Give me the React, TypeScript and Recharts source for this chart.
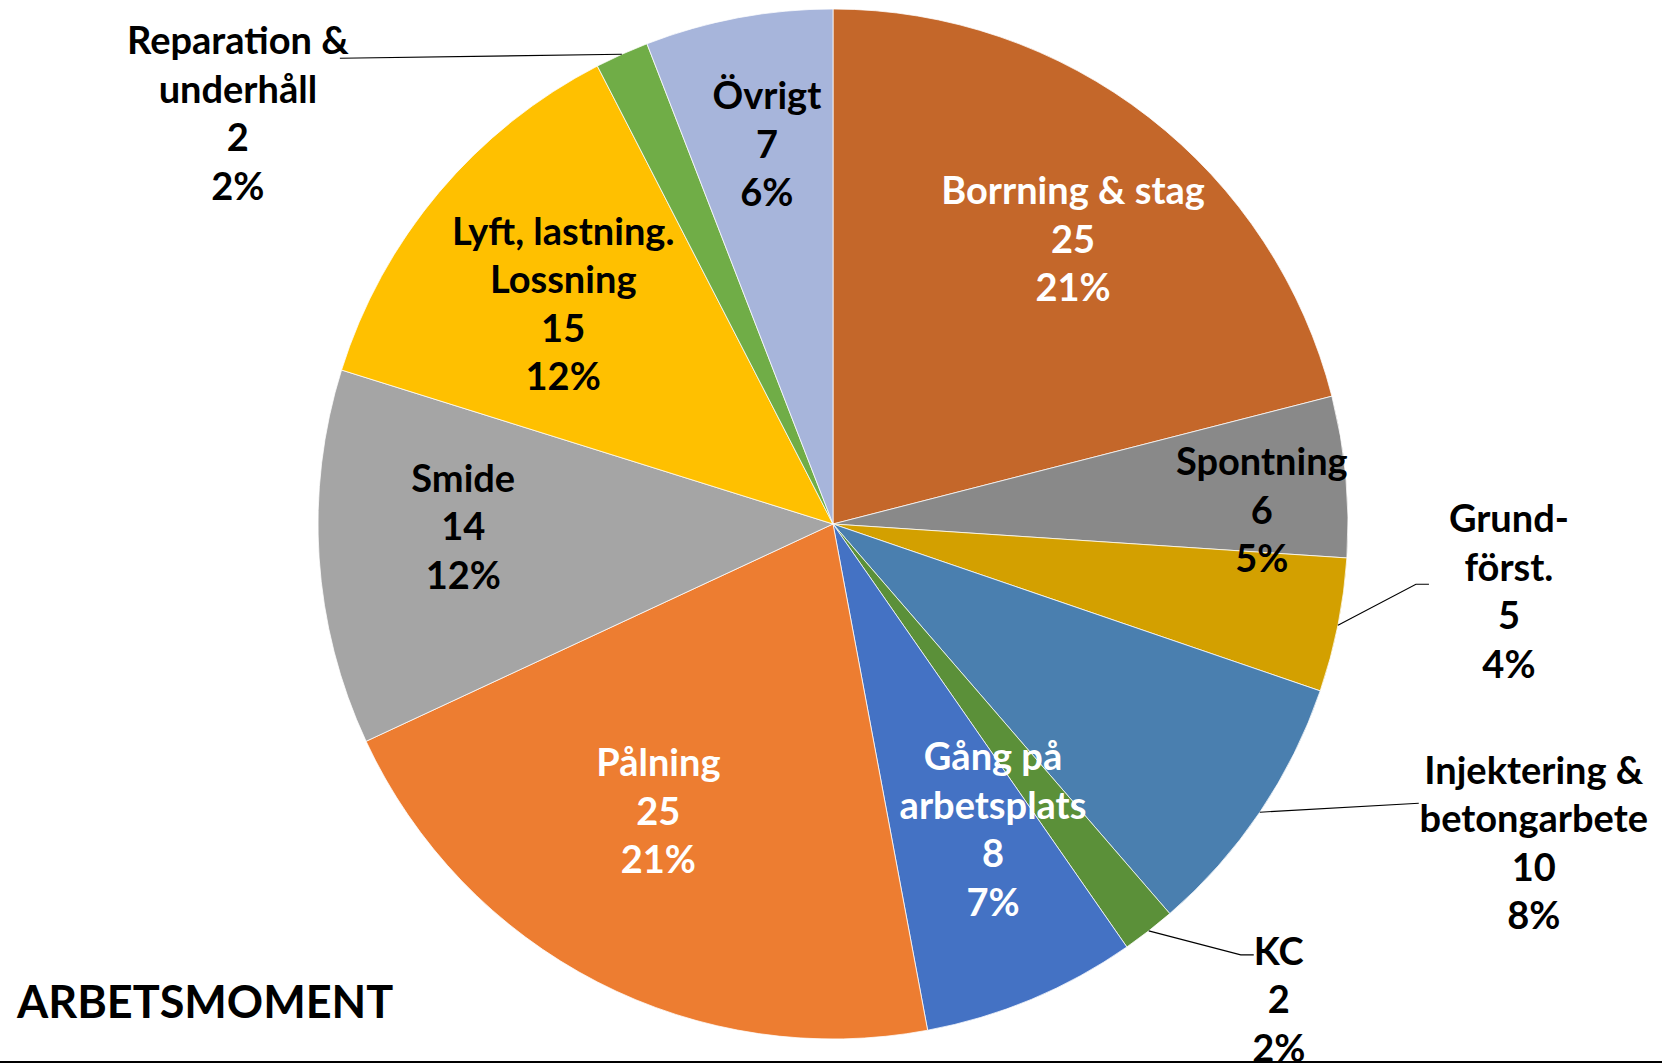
import React from 'react';
import { PieChart, Pie, Cell } from 'recharts';

// ---- data (clockwise from 12 o'clock) ----
const categories = [
  'Borrning & stag',
  'Spontning',
  'Grund-\nförst.',
  'Injektering &\nbetongarbete',
  'KC',
  'Gång på\narbetsplats',
  'Pålning',
  'Smide',
  'Lyft, lastning.\nLossning',
  'Reparation &\nunderhåll',
  'Övrigt',
];
const counts = [25, 6, 5, 10, 2, 8, 25, 14, 15, 2, 7];
const percentLabels = ['21%', '5%', '4%', '8%', '2%', '7%', '21%', '12%', '12%', '2%', '6%'];
const chartTitle = 'ARBETSMOMENT';

// ---- styling ----
const sliceColors = [
  '#C4672A', '#898989', '#D3A000', '#4A7FAF', '#5B9039', '#4472C4',
  '#ED7D31', '#A5A5A5', '#FFC000', '#70AD47', '#A7B5DB',
];
const labelColors = [
  '#FFFFFF', '#000000', '#000000', '#000000', '#000000', '#FFFFFF',
  '#FFFFFF', '#000000', '#000000', '#000000', '#000000',
];

type Layout =
  | { kind: 'inside'; r: number; rot: number }
  | { kind: 'outside'; elbow: [number, number]; tail: number; text: [number, number] };

// label placement (radius ratio / clockwise angle shift for inner labels;
// leader offsets from the slice edge for outer labels)
const labelLayout: Layout[] = [
  { kind: 'inside', r: 0.722, rot: 2.4 },
  { kind: 'inside', r: 0.833, rot: 3.6 },
  { kind: 'outside', elbow: [78, -41], tail: 13, text: [171, -33] },
  { kind: 'outside', elbow: [159, -9], tail: 0, text: [274, 32] },
  { kind: 'outside', elbow: [92, 24], tail: 13, text: [130, 70] },
  { kind: 'inside', r: 0.671, rot: -4.9 },
  { kind: 'inside', r: 0.654, rot: 4.0 },
  { kind: 'inside', r: 0.718, rot: 3.2 },
  { kind: 'inside', r: 0.675, rot: -1.0 },
  { kind: 'outside', elbow: [-282, 4], tail: 0, text: [-384, 60] },
  { kind: 'inside', r: 0.747, rot: 0.7 },
];

const W = 1662;
const H = 1063;
const CX = 833;
const CY = 524;
const R = 515;
const FONT = 'Lato, "Open Sans", sans-serif';
const FONT_SIZE = 38;
const LINE = 48.5;
const CAP = 25;
const RAD = Math.PI / 180;

const pieData = categories.map((name, i) => ({ name, value: counts[i] }));

function renderLabel(props: any) {
  const { cx, cy, midAngle, outerRadius, index } = props;
  const lay = labelLayout[index];
  const lines = [...categories[index].split('\n'), String(counts[index]), percentLabels[index]];
  let tx = 0;
  let ty = 0;
  let leader: React.ReactNode = null;
  if (lay.kind === 'inside') {
    const a = (midAngle - lay.rot) * RAD;
    tx = cx + outerRadius * lay.r * Math.cos(a);
    ty = cy - outerRadius * lay.r * Math.sin(a);
  } else {
    const a = midAngle * RAD;
    const px = cx + outerRadius * Math.cos(a);
    const py = cy - outerRadius * Math.sin(a);
    const ex = px + lay.elbow[0];
    const ey = py + lay.elbow[1];
    const pts = `${px},${py} ${ex},${ey} ${ex + lay.tail},${ey}`;
    leader = <polyline points={pts} fill="none" stroke="#000" strokeWidth={1.1} />;
    tx = px + lay.text[0];
    ty = py + lay.text[1];
  }
  const n = lines.length;
  return (
    <g key={`lbl-${index}`}>
      {leader}
      <text
        textAnchor="middle"
        fill={labelColors[index]}
        fontFamily={FONT}
        fontWeight={700}
        fontSize={FONT_SIZE}
      >
        {lines.map((l, i) => (
          <tspan key={i} x={tx} y={ty + (i - (n - 1) / 2) * LINE + CAP / 2}>
            {l}
          </tspan>
        ))}
      </text>
    </g>
  );
}

export default function App() {
  return (
    <div style={{ position: 'absolute', left: 0, top: 0, width: W, height: H, background: '#fff', overflow: 'hidden' }}>
      <PieChart width={W} height={H} margin={{ top: 0, right: 0, bottom: 0, left: 0 }}>
        <Pie
          data={pieData}
          dataKey="value"
          nameKey="name"
          cx={CX}
          cy={CY}
          outerRadius={R}
          startAngle={90}
          endAngle={-270}
          stroke="#ffffff"
          strokeWidth={0.75}
          label={renderLabel}
          labelLine={false}
          isAnimationActive={false}
        >
          {pieData.map((d, i) => (
            <Cell key={d.name} fill={sliceColors[i]} />
          ))}
        </Pie>
      </PieChart>
      <svg
        width={W}
        height={H}
        style={{ position: 'absolute', left: 0, top: 0, pointerEvents: 'none' }}
      >
        <text x={17} y={1018} fontFamily={FONT} fontWeight={700} fontSize={45} fill="#000">
          {chartTitle}
        </text>
        <rect x={0} y={1061} width={W} height={2} fill="#000" />
      </svg>
    </div>
  );
}
